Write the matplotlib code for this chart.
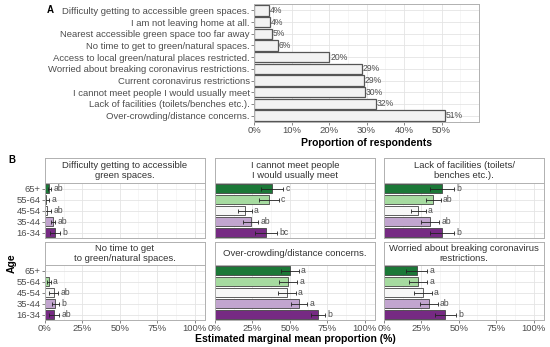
#
# barriers.py - barriers to visiting green spaces, overall and by age group
#
import matplotlib.pyplot as plt
import numpy as np

plt.rcParams['font.family'] = ['Liberation Sans', 'DejaVu Sans']

# panel A
barriers = ['Difficulty getting to accessible green spaces.',
            'I am not leaving home at all.',
            'Nearest accessible green space too far away',
            'No time to get to green/natural spaces.',
            'Access to local green/natural places restricted.',
            'Worried about breaking coronavirus restrictions.',
            'Current coronavirus restrictions',
            'I cannot meet people I would usually meet',
            'Lack of facilities (toilets/benches etc.).',
            'Over-crowding/distance concerns.']
proportion = [0.04, 0.043, 0.047, 0.063, 0.20, 0.287, 0.293, 0.296, 0.325, 0.508]
prop_labels = ['4%', '4%', '5%', '6%', '20%', '29%', '29%', '30%', '32%', '51%']

# panel B (age order: 16-34, 35-44, 45-54, 55-64, 65+)
ages = ['16-34', '35-44', '45-54', '55-64', '65+']
age_colours = ['#762a83', '#c2a5cf', '#f7f7f7', '#a6dba0', '#1b7837']

facet_titles = ['Difficulty getting to accessible\ngreen spaces.',
                'I cannot meet people\nI would usually meet',
                'Lack of facilities (toilets/\nbenches etc.).',
                'No time to get\nto green/natural spaces.',
                'Over-crowding/distance concerns.',
                'Worried about breaking coronavirus\nrestrictions.']
emm = [[0.067, 0.055, 0.015, 0.010, 0.029],
       [0.34, 0.24, 0.20, 0.36, 0.38],
       [0.39, 0.31, 0.23, 0.33, 0.39],
       [0.060, 0.070, 0.060, 0.027, 0.0],
       [0.69, 0.56, 0.48, 0.49, 0.50],
       [0.41, 0.30, 0.26, 0.23, 0.22]]
emm_err = [[0.033, 0.013, 0.028, 0.02, 0.012],
           [0.075, 0.05, 0.045, 0.065, 0.075],
           [0.08, 0.06, 0.05, 0.05, 0.08],
           [0.035, 0.025, 0.03, 0.012, 0.0],
           [0.045, 0.055, 0.06, 0.06, 0.06],
           [0.07, 0.06, 0.06, 0.06, 0.07]]
letters = [['b', 'ab', 'ab', 'a', 'ab'],
           ['bc', 'ab', 'a', 'c', 'c'],
           ['b', 'ab', 'a', 'ab', 'b'],
           ['ab', 'b', 'ab', 'a', ''],
           ['b', 'a', 'a', 'a', 'a'],
           ['b', 'ab', 'a', 'a', 'a']]

W, H = 550, 347
fig = plt.figure(figsize=(W / 100, H / 100), dpi=100)


def px_axes(x0, y0, x1, y1):
    return fig.add_axes([x0 / W, 1 - y1 / H, (x1 - x0) / W, (y1 - y0) / H])


def style_panel(ax):
    ax.set_facecolor('white')
    for s in ax.spines.values():
        s.set_color('#b0b0b0')
        s.set_linewidth(0.7)
    ax.grid(True, which='major', color='#e4e4e4', linewidth=0.6)
    ax.grid(True, which='minor', axis='x', color='#f0f0f0', linewidth=0.4)
    ax.set_axisbelow(True)
    ax.tick_params(length=2, width=0.5, color='#555555', labelsize=6.8,
                   labelcolor='#4d4d4d', pad=1)
    ax.tick_params(which='minor', length=0)


# ---- panel A ----
axA = px_axes(254, 4, 479, 122)
y = np.arange(len(barriers))[::-1]
axA.barh(y, proportion, height=0.88, color='#f2f2f2', edgecolor='#555555',
         linewidth=0.9)
for yi, v, lab in zip(y, proportion, prop_labels):
    axA.text(v + 0.003, yi, lab, va='center', ha='left', fontsize=6.2,
             color='#4d4d4d')
axA.set_xlim(0, 0.60)
axA.set_ylim(-0.55, len(barriers) - 0.45)
axA.set_yticks(y)
axA.set_yticklabels(barriers)
axA.set_xticks(np.arange(0, 0.51, 0.1))
axA.set_xticks(np.arange(0.05, 0.6, 0.1), minor=True)
axA.set_xticklabels(['0%', '10%', '20%', '30%', '40%', '50%'])
style_panel(axA)
axA.set_xlabel('Proportion of respondents', fontsize=7.5, fontweight='bold',
               labelpad=2)
fig.text(47 / W, 1 - 10 / H, 'A', fontsize=7, fontweight='bold', va='center')

# ---- panel B ----
fig.text(8 / W, 1 - 160 / H, 'B', fontsize=7, fontweight='bold', va='center')
cols = [(45, 205), (215, 375), (384, 544)]
rows = [(158, 183, 238), (242, 265, 320)]
ypos = np.arange(len(ages))
for k in range(6):
    r, c = divmod(k, 3)
    x0, x1 = cols[c]
    st, pt, pb = rows[r]
    strip = px_axes(x0, st, x1, pt)
    strip.set_xticks([])
    strip.set_yticks([])
    for s in strip.spines.values():
        s.set_color('#b0b0b0')
        s.set_linewidth(0.7)
    strip.text(0.5, 0.5, facet_titles[k], ha='center', va='center',
               fontsize=6.8, color='#333333', linespacing=1.05,
               transform=strip.transAxes)

    ax = px_axes(x0, pt, x1, pb)
    vals = np.array(emm[k])
    errs = np.array(emm_err[k])
    ax.barh(ypos, vals, height=0.85, color=age_colours, edgecolor='#444444',
            linewidth=0.6)
    show = vals > 0
    ax.errorbar(vals[show], ypos[show], xerr=errs[show], fmt='none',
                ecolor='#222222', elinewidth=0.6, capsize=1.2, capthick=0.6)
    for yi, v, e, lt in zip(ypos, vals, errs, letters[k]):
        if lt:
            ax.text(v + e + 0.015, yi, lt, va='center', ha='left',
                    fontsize=6.2, color='#4d4d4d')
    ax.set_xlim(0, 1.07)
    ax.set_ylim(-0.5, len(ages) - 0.5)
    ax.set_xticks([0, 0.25, 0.5, 0.75, 1.0])
    ax.set_xticks([0.125, 0.375, 0.625, 0.875], minor=True)
    ax.set_yticks(ypos)
    style_panel(ax)
    if c == 0:
        ax.set_yticklabels(ages)
    else:
        ax.tick_params(axis='y', length=0)
        ax.set_yticklabels([])
    if r == 1:
        ax.set_xticklabels(['0%', '25%', '50%', '75%', '100%'])
    else:
        ax.tick_params(axis='x', length=0)
        ax.set_xticklabels([])

fig.text(12 / W, 1 - 263 / H, 'Age', rotation=90, fontsize=7.5,
         fontweight='bold', ha='center', va='center')
fig.text(295 / W, 1 - 339 / H, 'Estimated marginal mean proportion (%)',
         fontsize=7.5, fontweight='bold', ha='center', va='center')

fig.savefig('out.png', dpi=100)
